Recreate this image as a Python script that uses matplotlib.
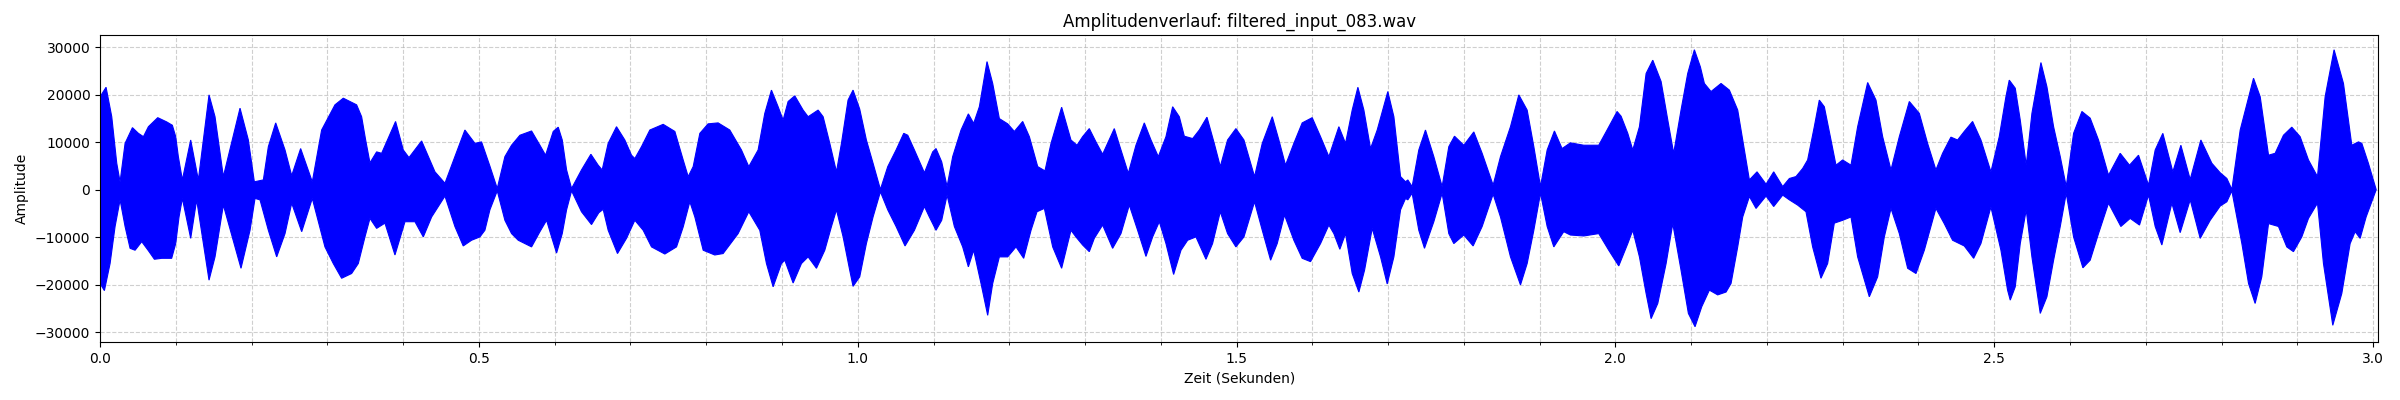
import matplotlib.pyplot as plt
import numpy as np
from matplotlib.ticker import MultipleLocator

dateiname = 'filtered_input_083.wav'
dauer = 3.007  # Sekunden

# obere Huellkurve (Zeit in s, Amplitude)
oben_zeit = [0.0, 0.0079, 0.0154, 0.022, 0.0264, 0.033, 0.0427, 0.0506, 0.0572, 0.0638,
             0.0761, 0.088, 0.0954, 0.0998, 0.1033, 0.1086, 0.1196, 0.1297, 0.1438, 0.1517,
             0.1627, 0.1847, 0.1957, 0.2036, 0.2155, 0.2221, 0.2318, 0.2441, 0.2529, 0.2647,
             0.2801, 0.2924, 0.31, 0.321, 0.3386, 0.3452, 0.3505, 0.3562, 0.365, 0.3716,
             0.39, 0.4002, 0.4077, 0.4244, 0.442, 0.4552, 0.4683, 0.4815, 0.4947, 0.5035,
             0.5145, 0.5242, 0.5343, 0.5431, 0.5541, 0.5695, 0.5805, 0.588, 0.5981, 0.6047,
             0.61, 0.6157, 0.6223, 0.6354, 0.6478, 0.6574, 0.6627, 0.6706, 0.6816, 0.6926,
             0.7014, 0.7058, 0.7146, 0.7256, 0.7432, 0.7586, 0.7696, 0.7762, 0.7828, 0.7916,
             0.8025, 0.8157, 0.8311, 0.8465, 0.8562, 0.8685, 0.8773, 0.8861, 0.8949, 0.9015,
             0.9081, 0.9169, 0.9279, 0.9345, 0.9477, 0.9543, 0.9631, 0.9719, 0.9785, 0.9872,
             0.9938, 1.0026, 1.0114, 1.0202, 1.0299, 1.0396, 1.0506, 1.0607, 1.066, 1.0748,
             1.088, 1.0989, 1.1033, 1.1108, 1.1179, 1.1253, 1.1363, 1.146, 1.153, 1.1605,
             1.1706, 1.1781, 1.1869, 1.1979, 1.2067, 1.2177, 1.2265, 1.2375, 1.2471, 1.2551,
             1.2691, 1.2814, 1.2894, 1.2968, 1.3056, 1.3144, 1.3232, 1.3386, 1.3474, 1.3571,
             1.3672, 1.3782, 1.387, 1.3967, 1.4068, 1.4156, 1.4244, 1.431, 1.442, 1.4508,
             1.4609, 1.4705, 1.4785, 1.4881, 1.4991, 1.5097, 1.5237, 1.5339, 1.5471, 1.5558,
             1.5646, 1.5756, 1.5866, 1.5998, 1.6108, 1.6218, 1.635, 1.6438, 1.6526, 1.6601,
             1.668, 1.6768, 1.6856, 1.6996, 1.7076, 1.7164, 1.723, 1.726, 1.7317, 1.7405,
             1.7493, 1.7603, 1.7713, 1.7801, 1.7876, 1.7999, 1.8131, 1.8241, 1.8386, 1.8483,
             1.8615, 1.8725, 1.8835, 1.8923, 1.9011, 1.9099, 1.9195, 1.9296, 1.9406, 1.9582,
             1.978, 1.989, 2.0022, 2.0075, 2.0163, 2.0229, 2.0317, 2.0405, 2.0493, 2.0603,
             2.0691, 2.0769, 2.0866, 2.0954, 2.1042, 2.1121, 2.1174, 2.1262, 2.1394, 2.1504,
             2.1614, 2.168, 2.1768, 2.1869, 2.1988, 2.2089, 2.2208, 2.2296, 2.2383, 2.2471,
             2.2537, 2.2625, 2.2691, 2.2757, 2.2845, 2.2911, 2.2999, 2.3109, 2.3197, 2.3329,
             2.3439, 2.3527, 2.3637, 2.3747, 2.3879, 2.4011, 2.412, 2.423, 2.4318, 2.4428,
             2.4516, 2.4604, 2.4714, 2.4824, 2.4956, 2.5066, 2.5154, 2.5198, 2.5277, 2.5343,
             2.5422, 2.5497, 2.5616, 2.5695, 2.5783, 2.5871, 2.595, 2.6047, 2.6157, 2.6266,
             2.6376, 2.6508, 2.6662, 2.6785, 2.6904, 2.7036, 2.7124, 2.7225, 2.7357, 2.7463,
             2.7586, 2.7727, 2.7872, 2.7982, 2.807, 2.8136, 2.8246, 2.8422, 2.851, 2.862,
             2.8707, 2.8817, 2.8927, 2.9037, 2.9147, 2.9266, 2.9367, 2.9485, 2.9609, 2.9719,
             2.9807, 2.9851, 2.9938, 3.004]
oben_amp = [19600, 21600, 15400, 5600, 1700, 9800, 13100, 11900, 11200, 13300,
            15200, 14300, 13600, 11200, 7000, 2100, 10500, 2100, 20000, 15400,
            2800, 17200, 10500, 1700, 2100, 9100, 14100, 8400, 3000, 8700,
            1700, 12600, 17900, 19300, 17900, 15400, 10500, 5700, 8000, 7700,
            14400, 8400, 6800, 10300, 3800, 1400, 7000, 12600, 9800, 10100,
            5000, 300, 7000, 9400, 11500, 12400, 9400, 7300, 12300, 13200,
            10500, 4200, 300, 4200, 7500, 5200, 4200, 9800, 13300, 10500,
            7300, 6600, 9100, 12600, 13800, 12300, 6300, 2800, 4900, 11900,
            13900, 14100, 12600, 8400, 4900, 8400, 16100, 21000, 17500, 14700,
            18600, 19800, 16800, 15400, 16800, 15400, 9800, 3800, 9800, 18900,
            21000, 17000, 10500, 5600, 100, 4900, 8400, 11900, 11500, 8400,
            3600, 8000, 8700, 5900, 700, 7000, 12600, 16000, 14000, 17500,
            27000, 22400, 15000, 13900, 12300, 14400, 11200, 4900, 4000, 9800,
            17400, 10500, 9400, 11200, 12900, 10100, 7500, 12900, 8400, 3500,
            9400, 14100, 10500, 7000, 11200, 17500, 15400, 11300, 10800, 12600,
            15300, 9800, 4900, 10500, 12900, 10500, 2800, 9800, 15400, 10500,
            5200, 9800, 14100, 15200, 11200, 7000, 13300, 9800, 16800, 21600,
            16800, 8700, 12600, 20700, 15400, 2800, 1700, 2100, 700, 8400,
            12600, 7000, 700, 9100, 11300, 9400, 12200, 7700, 1000, 7000,
            13300, 20000, 16800, 9100, 700, 8400, 12400, 8700, 9900, 9400,
            9400, 12600, 16500, 15500, 11900, 8400, 13300, 24500, 27300, 22800,
            14700, 7700, 16800, 24500, 29500, 25900, 22400, 20700, 22400, 21000,
            16800, 10500, 2100, 3800, 1200, 3800, 700, 2400, 2800, 4500,
            6300, 13300, 18900, 17500, 10500, 5200, 6300, 5200, 13300, 22600,
            18900, 11200, 4200, 11200, 18600, 16100, 9800, 4200, 7700, 11100,
            10500, 12300, 14400, 10500, 3800, 11200, 19600, 23100, 21400, 14700,
            5200, 16100, 26800, 21700, 13300, 7000, 700, 11900, 16500, 15100,
            10500, 3100, 7700, 5200, 7300, 1000, 8400, 11900, 3800, 9400,
            2200, 10500, 5600, 3600, 2400, 100, 12600, 23500, 19600, 7300,
            7700, 11500, 13200, 11200, 6300, 2800, 19600, 29500, 22400, 9400,
            10100, 9800, 5600, 100]

# untere Huellkurve
unten_zeit = [0.0, 0.0057, 0.0132, 0.0198, 0.0264, 0.033, 0.0396, 0.0462, 0.055, 0.0638,
              0.0717, 0.0814, 0.0945, 0.0998, 0.1042, 0.1086, 0.1196, 0.1275, 0.1438, 0.1517,
              0.1627, 0.186, 0.1979, 0.2045, 0.2111, 0.2221, 0.2331, 0.2441, 0.2529, 0.2661,
              0.2801, 0.2968, 0.3078, 0.3188, 0.332, 0.3408, 0.3496, 0.3562, 0.365, 0.376,
              0.3892, 0.4024, 0.4156, 0.4266, 0.4376, 0.4552, 0.4683, 0.4793, 0.4903, 0.5013,
              0.5079, 0.5145, 0.5242, 0.5343, 0.5431, 0.5519, 0.5695, 0.5805, 0.5893, 0.5959,
              0.6025, 0.61, 0.6157, 0.6223, 0.6354, 0.6486, 0.6583, 0.664, 0.6706, 0.6829,
              0.6948, 0.7058, 0.7168, 0.7278, 0.7454, 0.7608, 0.7696, 0.7784, 0.785, 0.796,
              0.8113, 0.8223, 0.8421, 0.8562, 0.8707, 0.8795, 0.8883, 0.8993, 0.9037, 0.9147,
              0.9257, 0.9345, 0.9455, 0.9565, 0.9653, 0.9719, 0.9807, 0.9894, 0.9938, 1.0026,
              1.0114, 1.0202, 1.0299, 1.0396, 1.0506, 1.0624, 1.0748, 1.088, 1.0945, 1.1033,
              1.1108, 1.1179, 1.1275, 1.1385, 1.146, 1.153, 1.1627, 1.1715, 1.1781, 1.1869,
              1.1979, 1.2089, 1.219, 1.2287, 1.2366, 1.2463, 1.2573, 1.2691, 1.2814, 1.288,
              1.2968, 1.3056, 1.3122, 1.3232, 1.3364, 1.3474, 1.3584, 1.3694, 1.3804, 1.3892,
              1.398, 1.4068, 1.4169, 1.4266, 1.4354, 1.4464, 1.4596, 1.4683, 1.4785, 1.4881,
              1.4991, 1.5097, 1.5237, 1.5339, 1.5449, 1.5536, 1.5633, 1.5756, 1.5866, 1.5976,
              1.6108, 1.6218, 1.6284, 1.6363, 1.6438, 1.6526, 1.6614, 1.6689, 1.679, 1.69,
              1.6988, 1.7076, 1.7164, 1.723, 1.726, 1.7317, 1.7405, 1.748, 1.7603, 1.7713,
              1.7801, 1.7867, 1.7999, 1.8122, 1.8241, 1.8386, 1.8483, 1.8615, 1.8747, 1.8835,
              1.8923, 1.9011, 1.9099, 1.9187, 1.9318, 1.9406, 1.9582, 1.978, 1.9912, 2.0044,
              2.0163, 2.0229, 2.0317, 2.0405, 2.0471, 2.0559, 2.0669, 2.0757, 2.0866, 2.0963,
              2.1051, 2.1139, 2.124, 2.135, 2.146, 2.1526, 2.1614, 2.168, 2.1768, 2.1856,
              2.1988, 2.2089, 2.2208, 2.2296, 2.2405, 2.2515, 2.2603, 2.2713, 2.2801, 2.2889,
              2.2999, 2.3109, 2.3197, 2.3351, 2.3461, 2.3549, 2.3637, 2.3747, 2.3857, 2.3967,
              2.4077, 2.423, 2.434, 2.445, 2.4604, 2.4728, 2.4824, 2.4956, 2.5088, 2.5176,
              2.5211, 2.5277, 2.5343, 2.5422, 2.5497, 2.5607, 2.5695, 2.5783, 2.5871, 2.595,
              2.6047, 2.617, 2.6266, 2.6376, 2.6508, 2.6671, 2.6794, 2.6917, 2.7036, 2.7124,
              2.7212, 2.7344, 2.7454, 2.7586, 2.7718, 2.785, 2.7982, 2.807, 2.8136, 2.8268,
              2.8356, 2.8443, 2.8531, 2.862, 2.8751, 2.8861, 2.8949, 2.9059, 2.9147, 2.9266,
              2.9345, 2.9468, 2.9587, 2.9697, 2.9763, 2.9829, 2.9908, 3.004]
unten_amp = [-19700, -21200, -15500, -7700, -2100, -7700, -12300, -12700, -10900, -12800,
             -14600, -14400, -14400, -11300, -5700, -1800, -10200, -2100, -19000, -14100,
             -3200, -16500, -8500, -1800, -2100, -8500, -14100, -9200, -2800, -8800,
             -1800, -12000, -15500, -18600, -17600, -15500, -9900, -6000, -8100, -7000,
             -13700, -6700, -6700, -9900, -5700, -1300, -7700, -11800, -10600, -9900,
             -8500, -4200, -200, -6400, -9200, -10600, -12000, -8800, -6400, -9900,
             -13300, -9200, -4200, -200, -4600, -7300, -4800, -4100, -8500, -13400,
             -10200, -6400, -8500, -12000, -13500, -12000, -7800, -2500, -5700, -12700,
             -13700, -13400, -9200, -4600, -8500, -15500, -20400, -15500, -14800, -19600,
             -15500, -14100, -16500, -12700, -7700, -4200, -9900, -16900, -20300, -18300,
             -11300, -5700, -400, -4200, -7700, -11800, -8500, -3500, -5700, -8500,
             -6400, -1100, -7700, -12000, -16200, -12700, -19700, -26400, -19700, -14100,
             -14100, -12000, -14400, -8500, -4600, -3900, -12000, -16500, -8500, -9900,
             -11600, -13000, -10200, -7400, -12300, -9200, -3200, -8500, -14000, -9900,
             -6700, -11300, -17800, -12700, -10600, -9900, -14600, -11300, -4600, -9200,
             -12000, -9900, -2500, -8500, -14800, -11300, -5300, -10600, -14400, -15100,
             -11300, -7400, -9200, -12500, -9200, -17600, -21500, -16900, -8100, -14100,
             -19800, -14100, -4200, -1800, -2100, -700, -8500, -12300, -6700, -700,
             -9200, -11300, -9500, -11800, -7700, -900, -5700, -14100, -20000, -15500,
             -8500, -700, -7700, -12000, -8800, -9500, -9700, -9200, -12700, -16000,
             -11300, -8500, -14100, -21800, -27100, -23900, -15500, -7100, -16900, -26000,
             -28800, -24600, -21100, -22100, -21500, -19700, -12000, -5700, -1400, -3900,
             -1300, -3500, -1100, -2100, -3200, -4600, -12000, -18600, -15500, -7000,
             -6400, -5700, -14100, -22500, -18300, -9900, -3900, -9200, -16500, -17600,
             -12700, -3900, -7100, -10600, -11800, -14400, -11300, -3600, -12700, -21100,
             -23200, -20400, -11300, -4200, -14100, -26000, -22500, -14800, -7700, -700,
             -9900, -16400, -14800, -9200, -2800, -7700, -6000, -7400, -1100, -7700,
             -11600, -2800, -9000, -2100, -10200, -6400, -3400, -2500, -200, -11300,
             -19700, -23900, -18300, -7100, -7700, -12000, -13000, -9900, -6000, -2800,
             -15500, -28500, -21800, -11300, -8800, -10200, -5700, 0]

plt.figure(figsize=(24, 4), dpi=100)
ax = plt.gca()

x = np.concatenate([oben_zeit, unten_zeit[::-1]])
y = np.concatenate([oben_amp, unten_amp[::-1]])
ax.fill(x, y, color='blue', linewidth=0.8, zorder=2)

ax.set_xlim(0, dauer)
ax.set_ylim(-32100, 32600)
ax.xaxis.set_minor_locator(MultipleLocator(0.1))
plt.title('Amplitudenverlauf: ' + dateiname)
plt.xlabel('Zeit (Sekunden)')
plt.ylabel('Amplitude')
plt.grid(True, which='both', linestyle='--', alpha=0.6)
plt.subplots_adjust(left=0.0417, right=0.991, top=0.9125, bottom=0.144)
plt.savefig('out.png')
